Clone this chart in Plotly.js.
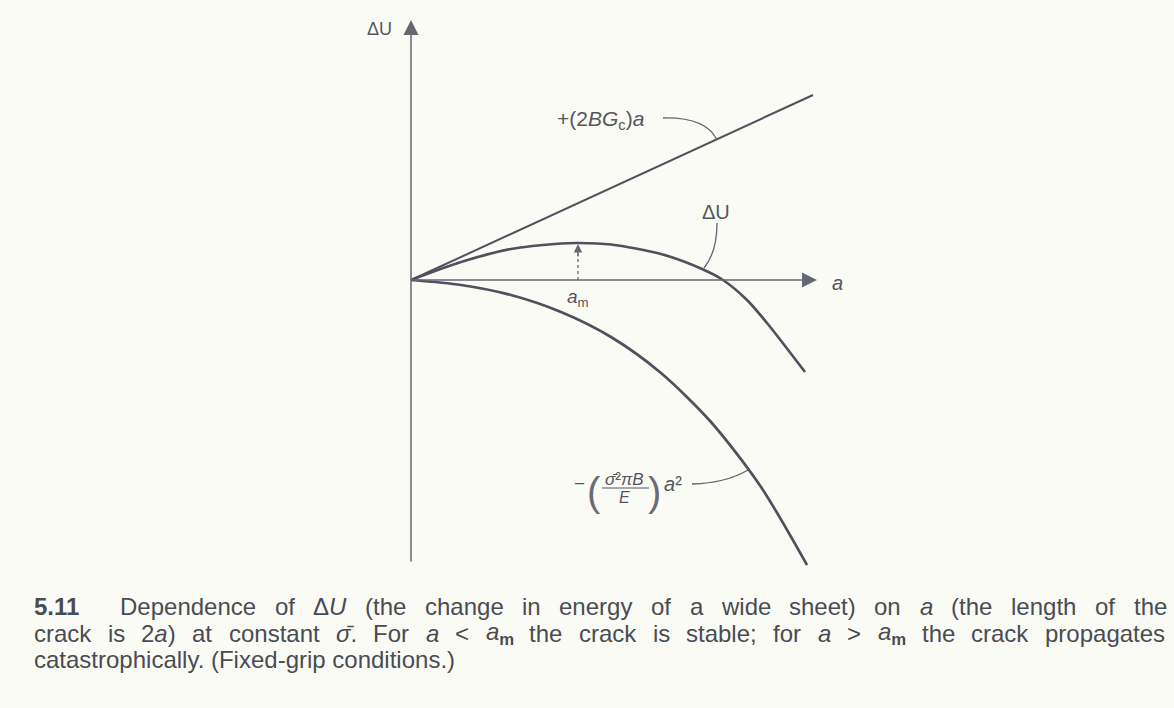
<!DOCTYPE html>
<html>
<head>
<meta charset="utf-8">
<script src="https://cdn.plot.ly/plotly-3.0.1.min.js"></script>
<style>
  html, body { margin: 0; padding: 0; background: #fbfbf6; }
  #fig { width: 1174px; height: 708px; }
</style>
</head>
<body>
<div id="fig"></div>
<script>
// Crack length a and energy terms (arbitrary units)
const surfaceA = [0, 4.02];
const surfaceU = [0, 1.85];               // +(2BGc)a

const elasticA = [0, 0.5, 1.0, 1.5, 2.0, 2.5, 3.0, 3.5, 3.96];
const elasticU = [0, -0.05, -0.15, -0.32, -0.57, -0.93, -1.42, -2.07, -2.85];   // -(σ²πB/E)a²

const totalA = [0, 0.5, 1.0, 1.5, 1.67, 2.0, 2.5, 2.91, 3.12, 3.36, 3.56, 3.94];
const totalU = [0, 0.18, 0.31, 0.365, 0.37, 0.355, 0.26, 0.11, 0, -0.20, -0.43, -0.92];   // ΔU

const aMax = 1.67;      // a_m, crack length at the maximum of ΔU
const uMax = 0.37;

// Caption, one array of words per printed line; each word is a list of [text, style] runs
const captionLine1 = [
  [['5.11', 'b']], [['Dependence', '']], [['of', '']], [['Δ', ''], ['U', 'i']], [['(the', '']],
  [['change', '']], [['in', '']], [['energy', '']], [['of', '']], [['a', '']], [['wide', '']],
  [['sheet)', '']], [['on', '']], [['a', 'i']], [['(the', '']], [['length', '']], [['of', '']], [['the', '']]
];
const captionLine2 = [
  [['crack', '']], [['is', '']], [['2', ''], ['a', 'i'], [')', '']], [['at', '']], [['constant', '']],
  [['σ̄', 'i'], ['.', '']], [['For', '']], [['a', 'i']], [['<', '']], [['a', 'i'], ['m', 'sub']],
  [['the', '']], [['crack', '']], [['is', '']], [['stable;', '']], [['for', '']], [['a', 'i']],
  [['>', '']], [['a', 'i'], ['m', 'sub']], [['the', '']], [['crack', '']], [['propagates', '']]
];
const captionLine3 = 'catastrophically. (Fixed-grip conditions.)';

const ink = '#4f515c';
const txt = '#55575f';
const capColor = '#4a4c53';
const font = 'Liberation Sans, Arial, sans-serif';
const capSize = 24;

const traces = [
  { x: surfaceA, y: surfaceU, mode: 'lines', line: { color: ink, width: 2 }, hoverinfo: 'skip' },
  { x: elasticA, y: elasticU, mode: 'lines', line: { color: ink, width: 2.7, shape: 'spline', smoothing: 0.8 }, hoverinfo: 'skip' },
  { x: totalA, y: totalU, mode: 'lines', line: { color: ink, width: 2.7, shape: 'spline', smoothing: 0.8 }, hoverinfo: 'skip' }
];

function label(x, y, text, size, color) {
  return { x: x, y: y, xref: 'x', yref: 'y', xanchor: 'center', yanchor: 'middle', text: text,
    showarrow: false, font: { family: font, size: size, color: color || txt } };
}

function arrow(x0, y0, x1, y1, w, size) {
  return { x: x1, y: y1, ax: x0, ay: y0, xref: 'x', yref: 'y', axref: 'x', ayref: 'y',
    text: '', showarrow: true, arrowhead: 2, arrowsize: size, arrowwidth: w,
    arrowcolor: '#666871', standoff: 0, startstandoff: 0 };
}

const annotations = [
  // axes
  arrow(0, -2.83, 0, 2.60, 1.5, 2.0),
  arrow(0, 0, 4.06, 0, 1.5, 2.0),
  // a_m marker head
  arrow(aMax, 0.22, aMax, uMax - 0.01, 1.2, 1.4),
  // axis labels
  label(-0.32, 2.51, 'ΔU', 18),
  label(4.26, -0.03, '<i>a</i>', 20),
  label(aMax, -0.18, '<i>a</i><sub>m</sub>', 19),
  // curve labels
  label(1.89, 1.60, '+(2<i>BG</i><sub>c</sub>)<i>a</i>', 21),
  label(3.05, 0.68, 'ΔU', 20),
  label(1.68, -2.03, '−', 19),
  label(1.83, -2.12, '(', 40, '#6a6c74'),
  label(2.135, -1.995, '<i>σ̄</i>²<i>πB</i>', 17),
  label(2.13, -2.17, '<i>E</i>', 16),
  label(2.43, -2.12, ')', 40, '#6a6c74'),
  label(2.62, -2.04, '<i>a</i>²', 20)
];

// Justified caption lines: measure every word and spread the spare width over the gaps
const ctx = document.createElement('canvas').getContext('2d');
function runFont(style, size) {
  const it = style.indexOf('i') >= 0 ? 'italic ' : '';
  const b = style.indexOf('b') >= 0 ? 'bold ' : '';
  return it + b + size + 'px "Liberation Sans"';
}
function escapeHtml(s) { return s.replace(/&/g, '&amp;').replace(/</g, '&lt;').replace(/>/g, '&gt;'); }
function wordInfo(runs) {
  let w = 0, html = '';
  runs.forEach(function (r) {
    const t = r[0], st = r[1];
    const sz = st === 'sub' ? capSize * 0.7 : capSize;
    ctx.font = runFont(st === 'sub' ? '' : st, sz);
    w += ctx.measureText(t).width;
    let h = escapeHtml(t);
    if (st.indexOf('i') >= 0) h = '<i>' + h + '</i>';
    if (st.indexOf('b') >= 0) h = '<b>' + h + '</b>';
    if (st === 'sub') h = '<sub>' + h + '</sub>';
    html += h;
  });
  return { w: w, html: html };
}
function justify(words, left, right, yPx, firstGap) {
  const info = words.map(wordInfo);
  const total = info.reduce(function (s, i) { return s + i.w; }, 0);
  const weights = info.slice(1).map(function (_, k) { return k === 0 ? firstGap : 1; });
  const wsum = weights.reduce(function (s, v) { return s + v; }, 0);
  const unit = (right - left - total) / wsum;
  let x = left;
  info.forEach(function (i, k) {
    annotations.push({ x: x / 1174, y: 1 - yPx / 708, xref: 'paper', yref: 'paper',
      xanchor: 'left', yanchor: 'middle', showarrow: false, borderpad: 0,
      text: i.html, font: { family: font, size: capSize, color: capColor } });
    x += i.w + (k < weights.length ? unit * weights[k] : 0);
  });
}
justify(captionLine1, 33, 1166, 606, 2.2);
justify(captionLine2, 33, 1164, 633, 1);
annotations.push({ x: 33 / 1174, y: 1 - 659 / 708, xref: 'paper', yref: 'paper',
  xanchor: 'left', yanchor: 'middle', showarrow: false, borderpad: 0,
  text: captionLine3, font: { family: font, size: capSize, color: capColor } });

const shapes = [
  // dashed rise from a_m to the maximum
  { type: 'line', xref: 'x', yref: 'y', x0: aMax, y0: 0, x1: aMax, y1: 0.27,
    line: { color: '#666871', width: 1.3, dash: '3px,3px' } },
  // fraction bar
  { type: 'line', xref: 'x', yref: 'y', x0: 1.91, y0: -2.08, x1: 2.38, y1: -2.08,
    line: { color: txt, width: 1 } },
  // leader lines
  { type: 'path', xref: 'x', yref: 'y', path: 'M 2.52 1.62 Q 2.95 1.63 3.06 1.40',
    line: { color: '#62646e', width: 1.3 } },
  { type: 'path', xref: 'x', yref: 'y', path: 'M 3.06 0.57 Q 3.06 0.28 2.93 0.12',
    line: { color: '#62646e', width: 1.3 } },
  { type: 'path', xref: 'x', yref: 'y', path: 'M 2.81 -2.04 Q 3.15 -2.03 3.37 -1.90',
    line: { color: '#62646e', width: 1.3 } }
];

const layout = {
  width: 1174, height: 708,
  margin: { l: 0, r: 0, t: 0, b: 0 },
  paper_bgcolor: '#fbfbf6', plot_bgcolor: '#fbfbf6',
  showlegend: false,
  xaxis: { range: [-4.11, 7.63], visible: false, fixedrange: true },
  yaxis: { range: [-4.28, 2.80], visible: false, fixedrange: true },
  annotations: annotations,
  shapes: shapes
};

Plotly.newPlot('fig', traces, layout, { staticPlot: true, displayModeBar: false });
</script>
</body>
</html>
